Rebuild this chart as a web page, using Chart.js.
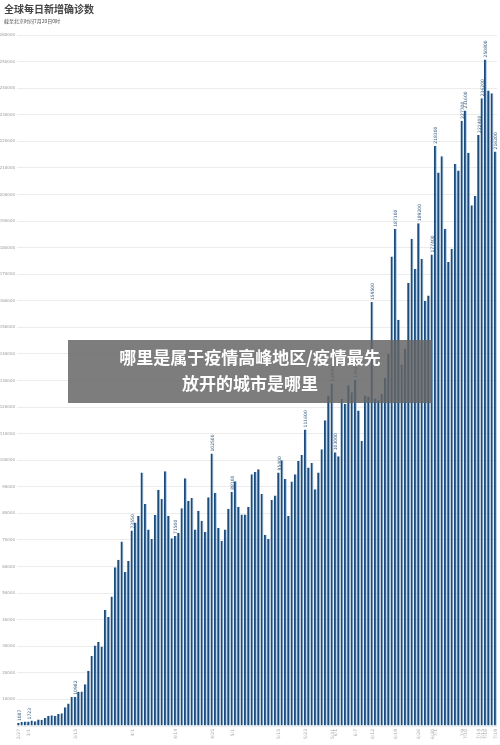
<!DOCTYPE html>
<html>
<head>
<meta charset="utf-8">
<title>全球每日新增确诊数</title>
<script src="https://cdn.jsdelivr.net/npm/chart.js@4.4.0/dist/chart.umd.min.js"></script>
<style>
    html, body { margin: 0; padding: 0; background: #fff; }
    #wrap { position: relative; width: 500px; height: 745px; overflow: hidden; font-family: "Noto Sans CJK SC", "Noto Sans", sans-serif; }
    #myChart { position: absolute; left: 0; top: 0; }
    .title { position: absolute; left: 4px; top: 1px; font-size: 10px; font-weight: bold; color: #444; }
    .subtitle { position: absolute; left: 4px; top: 17px; font-size: 5px; color: #555; }
    .overlay { position: absolute; left: 68px; top: 340px; width: 364px; height: 63px; background: rgba(100, 100, 100, 0.84);
        color: #fff; font-weight: bold; font-size: 17px; line-height: 26px; text-align: center; padding-top: 4px; box-sizing: border-box; }
</style>
</head>
<body>
<div id="wrap">
    <canvas id="myChart" width="500" height="745"></canvas>
    <div class="title">全球每日新增确诊数</div>
    <div class="subtitle">截至北京时间7月20日0时</div>
    <div class="overlay">哪里是属于疫情高峰地区/疫情最先<br>放开的城市是哪里</div>
</div>
<script>

    /**
     * Data
     */

    // daily new cases, 2020-02-27 .. 2020-07-19
    var startDate = [2020, 1, 27];

    var newCases = [
        1087, 1550, 1690, 1723, 2100, 1760, 2420, 2390, 3020, 3870,
        4010, 3880, 4530, 4760, 7010, 8490, 10870, 10982, 12900, 12950,
        15730, 20760, 26380, 30250, 31610, 29880, 43750, 41020, 48760, 59740,
        62600, 69400, 57920, 62130, 73550, 76600, 79120, 95400, 83500, 73900,
        70400, 79400, 88900, 85400, 95900, 79100, 70600, 71500, 72750, 81900,
        93250, 84750, 85750, 73900, 81000, 77250, 73100, 86100, 102500, 87750,
        74500, 69600, 73900, 81750, 88100, 92100, 82500, 79600, 79600, 82400,
        94750, 95600, 96600, 87250, 72000, 70500, 85000, 86750, 95400, 100000,
        92900, 79000, 92000, 94750, 99750, 102000, 111600, 97250, 99000, 89100,
        95400, 104100, 115000, 124400, 128900, 103000, 101500, 123100, 121250, 128250,
        125600, 130250, 118750, 107250, 124400, 124000, 159500, 123200, 122600, 125000,
        131000, 140000, 176700, 187100, 152900, 136000, 142000, 166700, 183300, 172000,
        189200, 175800, 159900, 162000, 177400, 218300, 208300, 214400, 187100, 174600,
        179600, 211500, 209000, 227700, 231600, 215700, 195900, 199400, 222400, 236200,
        250800, 239100, 238100, 216200
    ];

    // bars that carry a value label and a date label
    var markedDays = [0, 3, 17, 34, 47, 58, 64, 78, 86, 94, 95, 101, 106, 113, 120, 124, 125, 133, 134, 138, 139, 140, 143];

    // y axis
    var yMax = 260000;
    var yStep = 10000;

    /**
     * Date labels
     */

    var dayLabels = [];
    for (var i = 0; i < newCases.length; i++) {
        var d = new Date(startDate[0], startDate[1], startDate[2] + i);
        dayLabels.push((d.getMonth() + 1) + '/' + d.getDate());
    }

    /**
     * Labels plugin
     */

    var markLabels = {
        id: 'markLabels',
        afterDatasetsDraw: function (chart) {
            var ctx = chart.ctx;
            var meta = chart.getDatasetMeta(0);
            var bottom = chart.chartArea.bottom;
            ctx.save();
            ctx.font = '4.5px "DejaVu Sans", sans-serif';
            markedDays.forEach(function (idx) {
                var bar = meta.data[idx];
                // value above the bar
                ctx.save();
                ctx.translate(bar.x + 0.8, bar.y - 2);
                ctx.rotate(-Math.PI / 2);
                ctx.fillStyle = '#3f6385';
                ctx.textAlign = 'left';
                ctx.textBaseline = 'middle';
                ctx.fillText(String(newCases[idx]), 0, 0);
                ctx.restore();
                // date below the axis
                ctx.save();
                ctx.translate(bar.x + 0.5, bottom + 3);
                ctx.rotate(-Math.PI / 2);
                ctx.fillStyle = '#aaa';
                ctx.textAlign = 'right';
                ctx.textBaseline = 'middle';
                ctx.fillText(dayLabels[idx], 0, 0);
                ctx.restore();
            });
            ctx.restore();
        }
    };

    /**
     * Chart.js
     */

    var ctx = document.getElementById('myChart').getContext('2d');
    var chart = new Chart(ctx, {
        type: 'bar',
        data: {
            labels: dayLabels,
            datasets: [{
                label: '全球每日新增确诊数',
                data: newCases,
                backgroundColor: '#1d4b7a',
                borderColor: '#9fc6e8',
                borderWidth: {top: 0, left: 0, bottom: 0, right: 1},
                borderSkipped: false,
                barPercentage: 0.9,
                categoryPercentage: 1
            }]
        },
        options: {
            responsive: false,
            animation: false,
            layout: {padding: {top: 35, bottom: 19, left: 0, right: 3}},
            plugins: {
                legend: {display: false},
                tooltip: {enabled: false}
            },
            scales: {
                x: {
                    display: false,
                    offset: true
                },
                y: {
                    min: 0,
                    max: yMax,
                    border: {display: false},
                    grid: {color: '#ececec', lineWidth: 1, drawTicks: false},
                    ticks: {
                        stepSize: yStep,
                        padding: 2,
                        color: '#9a9a9a',
                        font: {size: 4, family: 'DejaVu Sans'},
                        callback: function (v) { return v === 0 ? '' : String(v); }
                    },
                    afterFit: function (scale) { scale.width = 17; }
                }
            }
        },
        plugins: [markLabels]
    });

</script>
</body>
</html>
